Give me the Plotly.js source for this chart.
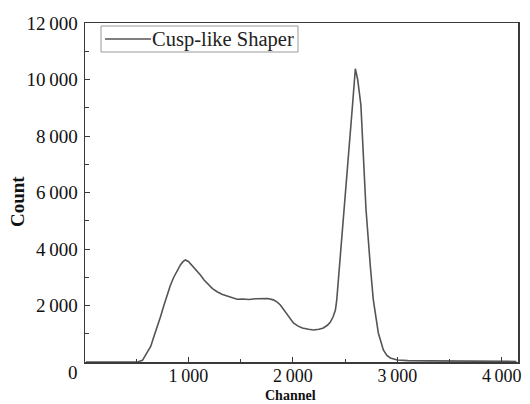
<!DOCTYPE html>
<html>
<head>
<meta charset="utf-8">
<script src="https://cdn.plot.ly/plotly-3.0.1.min.js"></script>
<style>html,body{margin:0;padding:0;background:#fff;}#chart{width:530px;height:404px;}</style>
</head>
<body>
<div id="chart"></div>
<script>
// Channel positions and counts
const channels = [20, 300, 480, 520, 560, 605, 640, 665, 700, 732, 765, 796, 826, 856, 890, 923, 950, 971, 1000, 1048, 1080, 1115, 1150, 1191, 1230, 1275, 1320, 1370, 1420, 1466, 1520, 1580, 1640, 1700, 1760, 1813, 1850, 1880, 1915, 1947, 1975, 2005, 2050, 2091, 2150, 2196, 2250, 2292, 2330, 2359, 2385, 2407, 2420, 2445, 2487, 2536, 2571, 2598, 2620, 2651, 2672, 2700, 2742, 2770, 2818, 2866, 2900, 2933, 3000, 3100, 3300, 3500, 3700, 3900, 4140];
const counts   = [0, 0, 0, 10, 60, 318, 560, 850, 1200, 1593, 2000, 2372, 2700, 2974, 3230, 3434, 3560, 3611, 3560, 3374, 3220, 3080, 2900, 2726, 2600, 2489, 2400, 2336, 2270, 2220, 2230, 2210, 2240, 2250, 2250, 2200, 2120, 2018, 1840, 1664, 1500, 1380, 1270, 1204, 1160, 1133, 1160, 1204, 1300, 1416, 1600, 1840, 2200, 3300, 5310, 7328, 9098, 10380, 10000, 9098, 7328, 5400, 3363, 2195, 1027, 425, 230, 142, 70, 50, 40, 35, 30, 25, 20];

const seriesName = 'Cusp-like Shaper';
const xTickVals = [1000, 2000, 3000, 4000];
const xTickText = ['1\u2009000', '2\u2009000', '3\u2009000', '4\u2009000'];
const yTickVals = [2000, 4000, 6000, 8000, 10000, 12000];
const yTickText = ['2\u2009000', '4\u2009000', '6\u2009000', '8\u2009000', '10\u2009000', '12\u2009000'];
const xTitle = 'Channel';
const yTitle = 'Count';
const zeroLabel = '0';

const FONT = 'Liberation Serif, Times New Roman, serif';
const AX = '#3a3a3a';
const LINE = '#555555';

const trace = {
  x: channels, y: counts, type: 'scatter', mode: 'lines', name: seriesName,
  line: {color: LINE, width: 1.6},
  showlegend: false
};

const axisCommon = {
  showline: true, mirror: true, linecolor: AX, linewidth: 1.5,
  ticks: 'inside', ticklen: 5, tickwidth: 1, tickcolor: AX,
  showgrid: false, zeroline: false
};

// plot area in pixels: x 85..518, y 23..362
const px = v => (v - 85) / 433;
const py = v => (362 - v) / 339;

const layout = {
  width: 530, height: 404,
  margin: {l: 85, r: 12, t: 23, b: 42, pad: 0},
  paper_bgcolor: '#fff', plot_bgcolor: '#fff',
  font: {family: FONT, color: '#111'},
  showlegend: false,
  xaxis: Object.assign({}, axisCommon, {
    range: [10, 4155], tickvals: xTickVals, ticktext: xTickText,
    ticklabelstandoff: -3,
    tickfont: {family: FONT, size: 18, color: '#111'},
    minor: {dtick: 500, tick0: 0, ticks: 'inside', ticklen: 3, tickcolor: AX, showgrid: false}
  }),
  yaxis: Object.assign({}, axisCommon, {
    range: [0, 12000], tickvals: yTickVals, ticktext: yTickText,
    ticklabelstandoff: 2,
    tickfont: {family: FONT, size: 19, color: '#111'},
    minor: {dtick: 1000, tick0: 0, ticks: 'inside', ticklen: 4, tickcolor: AX, showgrid: false}
  }),
  shapes: [
    // legend box and sample line
    {type: 'rect', xref: 'paper', yref: 'paper', x0: px(101), x1: px(298), y0: py(52), y1: py(26), line: {color: '#999', width: 1}, fillcolor: '#fff', layer: 'above'},
    {type: 'line', xref: 'paper', yref: 'paper', x0: px(105), x1: px(151), y0: py(39), y1: py(39), line: {color: LINE, width: 1.4}, layer: 'above'}
  ],
  annotations: [
    {text: seriesName, xref: 'paper', yref: 'paper', x: px(151), y: py(39), xanchor: 'left', yanchor: 'middle', showarrow: false, borderpad: 0, font: {family: FONT, size: 20.5, color: '#222'}},
    {text: zeroLabel, xref: 'paper', yref: 'paper', x: px(73), y: py(373), xanchor: 'center', yanchor: 'middle', showarrow: false, font: {family: FONT, size: 19, color: '#111'}},
    {text: '<b>' + xTitle + '</b>', xref: 'paper', yref: 'paper', x: px(290), y: py(404), xanchor: 'center', yanchor: 'bottom', showarrow: false, borderpad: 0, font: {family: FONT, size: 14, color: '#111'}},
    {text: '<b>' + yTitle + '</b>', xref: 'paper', yref: 'paper', x: px(17), y: py(202), xanchor: 'center', yanchor: 'middle', textangle: -90, showarrow: false, font: {family: FONT, size: 19, color: '#111'}}
  ]
};

Plotly.newPlot('chart', [trace], layout, {displayModeBar: false, staticPlot: true});
</script>
</body>
</html>
